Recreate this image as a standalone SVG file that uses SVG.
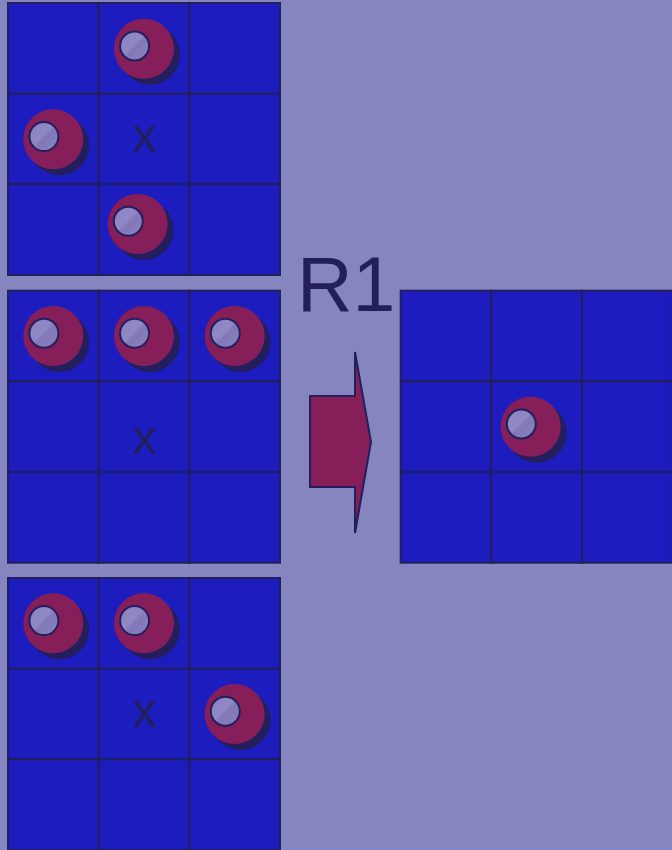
<svg xmlns="http://www.w3.org/2000/svg" xmlns:xlink="http://www.w3.org/1999/xlink" width="672" height="850" viewBox="0 0 672 850">
<style>
.cell{fill:#1d1dbf;stroke:#221f5c;stroke-width:2}
.shadow{fill:#221f5c}
.main{fill:#861e5a}
.inner{fill:url(#gl);stroke:#221f5c;stroke-width:2}
.lbl{font-family:"Liberation Sans",Arial,sans-serif;fill:#221f5c}
.arrow{fill:#861e5a;stroke:#221f5c;stroke-width:2;stroke-linejoin:miter}
</style>
<defs>
<linearGradient id="gl" x1="0" y1="0" x2="1" y2="1">
<stop offset="0" stop-color="#8a82c2"/>
<stop offset="0.45" stop-color="#9089c6"/>
<stop offset="0.55" stop-color="#8278b8"/>
<stop offset="1" stop-color="#8a82c0"/>
</linearGradient>
<g id="piece">
<circle class="shadow" cx="6" cy="6" r="30"/>
<circle class="main" cx="0" cy="0" r="30"/>
<circle class="inner" cx="-9.4" cy="-2.7" r="14.5"/>
</g>
<g id="grid">
<rect class="cell" x="0" y="0" width="90.7" height="90.7"/>
<rect class="cell" x="90.7" y="0" width="90.7" height="90.7"/>
<rect class="cell" x="181.3" y="0" width="90.7" height="90.7"/>
<rect class="cell" x="0" y="90.7" width="90.7" height="90.7"/>
<rect class="cell" x="90.7" y="90.7" width="90.7" height="90.7"/>
<rect class="cell" x="181.3" y="90.7" width="90.7" height="90.7"/>
<rect class="cell" x="0" y="181.3" width="90.7" height="90.7"/>
<rect class="cell" x="90.7" y="181.3" width="90.7" height="90.7"/>
<rect class="cell" x="181.3" y="181.3" width="90.7" height="90.7"/>
</g>
</defs>
<rect width="672" height="850" fill="#8585bf"/>

<g id="board1" transform="translate(8,3)">
<use xlink:href="#grid"/>
<use xlink:href="#piece" x="136" y="45.7"/>
<use xlink:href="#piece" x="45.3" y="136.3"/>
<use xlink:href="#piece" x="129.7" y="221"/>
<text class="lbl" x="136.5" y="148.7" font-size="49" text-anchor="middle">x</text>
</g>

<g id="board2" transform="translate(8,290.7)">
<use xlink:href="#grid"/>
<use xlink:href="#piece" x="45.3" y="45.3"/>
<use xlink:href="#piece" x="136" y="45.3"/>
<use xlink:href="#piece" x="226.7" y="45.3"/>
<text class="lbl" x="136.5" y="163.3" font-size="49" text-anchor="middle">x</text>
</g>

<g id="board3" transform="translate(8,578)">
<use xlink:href="#grid"/>
<use xlink:href="#piece" x="45.3" y="45.3"/>
<use xlink:href="#piece" x="136" y="45.3"/>
<use xlink:href="#piece" x="226.7" y="136"/>
<text class="lbl" x="136.5" y="148.7" font-size="49" text-anchor="middle">x</text>
</g>

<g id="label-r1">
<text class="lbl" x="297" y="311" font-size="77">R1</text>
</g>

<g id="connectors">
<polygon id="arrow-r1" class="arrow" points="310,396 355,396 355,352 371,442 355,533 355,487 310,487"/>
</g>

<g id="board-result" transform="translate(400.7,290.7)">
<use xlink:href="#grid"/>
<use xlink:href="#piece" x="130" y="136"/>
</g>
</svg>
